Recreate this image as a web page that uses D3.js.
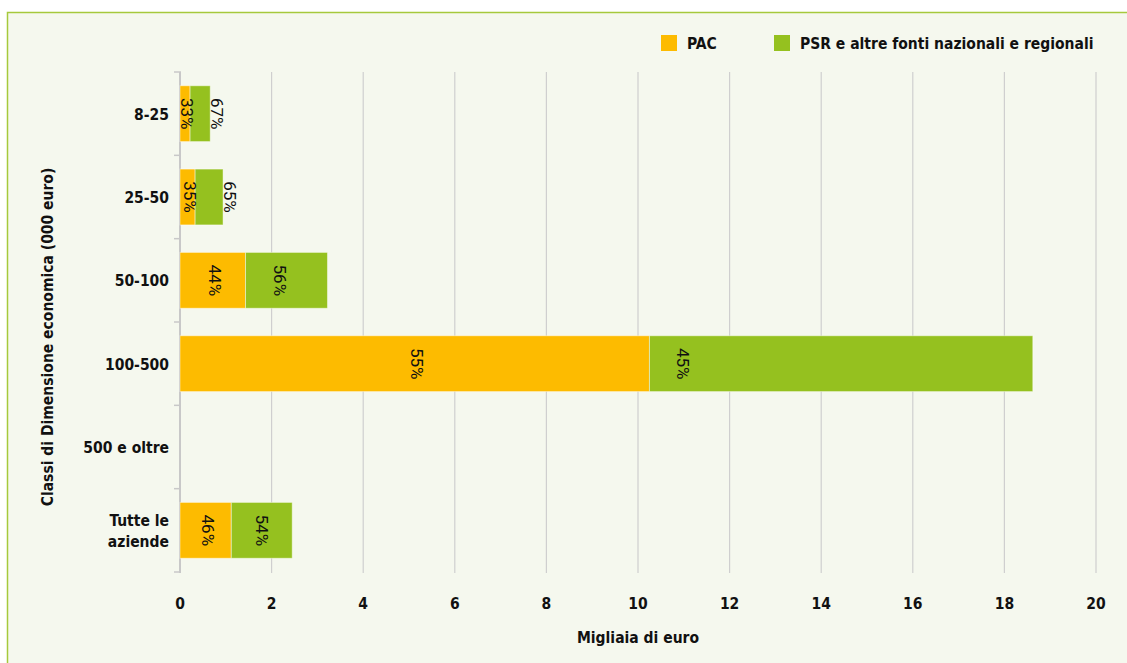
<!DOCTYPE html>
<html>
<head>
<meta charset="utf-8">
<script src="https://cdn.jsdelivr.net/npm/d3@7"></script>
<style>
  body { margin: 0; background: #fff; }
  text { font-family: "DejaVu Sans Condensed", "Liberation Sans Narrow", "Roboto", sans-serif; }
</style>
</head>
<body>
<div id="container"></div>
<script>
// Fonti di finanziamento per classe di dimensione economica

const categories = ["8-25", "25-50", "50-100", "100-500", "500 e oltre", "Tutte le aziende"]
const pacValues = [0.22, 0.33, 1.43, 10.25, null, 1.12]
const psrValues = [0.44, 0.61, 1.79, 8.37, null, 1.33]
const pacLabels = ["33%", "35%", "44%", "55%", null, "46%"]
const psrLabels = ["67%", "65%", "56%", "45%", null, "54%"]
const xTicks = [0, 2, 4, 6, 8, 10, 12, 14, 16, 18, 20]
const seriesNames = ["PAC", "PSR e altre fonti nazionali e regionali"]

const width = 1127,
    height = 663
const colors = ["#fdbb00", "#95c11f"]
const fs = "15.5px"

const svg = d3.select("#container").append("svg")
    .attr("width", width)
    .attr("height", height)

// frame
svg.append("rect")
    .attr("x", 7.5).attr("y", 12.5)
    .attr("width", width + 10).attr("height", height + 10)
    .attr("fill", "#f5f8ee")
    .attr("stroke", "#a6c93c")
    .attr("stroke-width", 1.5)

const x = d3.scaleLinear().domain([0, 20]).range([180, 1096])
const y = d3.scaleBand().domain(categories).range([72, 572])
    .paddingInner(0.33).paddingOuter(0.165)

// grid
svg.append("g").selectAll("line")
    .data(xTicks.slice(1))
    .enter().append("line")
    .attr("x1", d => x(d)).attr("x2", d => x(d))
    .attr("y1", 72).attr("y2", 573)
    .attr("stroke", "#cfcfcf")
    .attr("stroke-width", 1.2)

// x tick labels
svg.append("g").selectAll("text")
    .data(xTicks)
    .enter().append("text")
    .attr("x", d => x(d))
    .attr("y", 609)
    .attr("text-anchor", "middle")
    .style("font-size", fs)
    .style("font-weight", "bold")
    .attr("fill", "#111")
    .text(d => d)

// y axis line + ticks
const bounds = categories.map(c => y(c) - y.step() * y.paddingInner() / 2).concat([572])
svg.append("line")
    .attr("x1", 180).attr("x2", 180).attr("y1", 72).attr("y2", 573)
    .attr("stroke", "#c8c8c8").attr("stroke-width", 2)
svg.append("g").selectAll("line")
    .data(bounds)
    .enter().append("line")
    .attr("x1", 174).attr("x2", 181)
    .attr("y1", d => d).attr("y2", d => d)
    .attr("stroke", "#c8c8c8").attr("stroke-width", 1.5)

// category labels
svg.append("g").selectAll("text")
    .data(categories)
    .enter().append("text")
    .attr("text-anchor", "end")
    .attr("fill", "#111")
    .style("font-size", fs)
    .style("font-weight", "bold")
    .each(function (d) {
        const t = d3.select(this)
        const cy = y(d) + y.bandwidth() / 2
        if (d === "Tutte le aziende") {
            t.append("tspan").attr("x", 169).attr("y", cy - 4).text("Tutte le")
            t.append("tspan").attr("x", 169).attr("y", cy + 17).text("aziende")
        } else {
            t.attr("x", 169).attr("y", cy + 6).text(d)
        }
    })

// bars
const rows = categories.map((c, i) => ({
    cat: c, pac: pacValues[i], psr: psrValues[i],
    pacLabel: pacLabels[i], psrLabel: psrLabels[i]
})).filter(d => d.pac != null)

const bars = svg.append("g")
bars.selectAll("rect.pac")
    .data(rows).enter().append("rect")
    .attr("class", "pac")
    .attr("x", x(0))
    .attr("y", d => y(d.cat))
    .attr("width", d => x(d.pac) - x(0))
    .attr("height", y.bandwidth())
    .attr("fill", colors[0])
    .attr("stroke", "rgba(255,255,255,0.45)")
bars.selectAll("rect.psr")
    .data(rows).enter().append("rect")
    .attr("class", "psr")
    .attr("x", d => x(d.pac))
    .attr("y", d => y(d.cat))
    .attr("width", d => x(d.pac + d.psr) - x(d.pac))
    .attr("height", y.bandwidth())
    .attr("fill", colors[1])
    .attr("stroke", "rgba(255,255,255,0.45)")

// rotated labels
function pacX(d) { return (x(0) + x(d.pac)) / 2 + 2 }
function psrX(d) {
    const s = x(d.pac), e = x(d.pac + d.psr), w = e - s
    if (w < 30) return e + 7
    return Math.min((s + e) / 2, s + 34)
}
const labels = []
rows.forEach(d => {
    labels.push({ x: pacX(d), cy: y(d.cat) + y.bandwidth() / 2, t: d.pacLabel })
    labels.push({ x: psrX(d), cy: y(d.cat) + y.bandwidth() / 2, t: d.psrLabel })
})
svg.append("g").selectAll("text")
    .data(labels).enter().append("text")
    .attr("transform", d => `translate(${d.x},${d.cy}) rotate(90)`)
    .attr("text-anchor", "middle")
    .attr("dy", "0.35em")
    .style("font-family", "Roboto, 'Liberation Sans', sans-serif")
    .style("font-size", "17px")
    .attr("fill", "#111")
    .text(d => d.t)

// axis titles
svg.append("text")
    .attr("x", 638).attr("y", 643)
    .attr("text-anchor", "middle")
    .style("font-size", fs)
    .style("font-weight", "bold")
    .attr("fill", "#111")
    .text("Migliaia di euro")
svg.append("text")
    .attr("transform", "translate(53,337) rotate(-90)")
    .attr("text-anchor", "middle")
    .style("font-size", fs)
    .style("font-weight", "bold")
    .attr("fill", "#111")
    .text("Classi di Dimensione economica (000 euro)")

// legend
const legend = svg.append("g")
const legX = [661, 774]
seriesNames.forEach((n, i) => {
    legend.append("rect")
        .attr("x", legX[i]).attr("y", 35)
        .attr("width", 16).attr("height", 16)
        .attr("fill", colors[i])
    legend.append("text")
        .attr("x", legX[i] + 26).attr("y", 49)
        .style("font-size", fs)
        .style("font-weight", "bold")
        .attr("fill", "#111")
        .text(n)
})
</script>
</body>
</html>
